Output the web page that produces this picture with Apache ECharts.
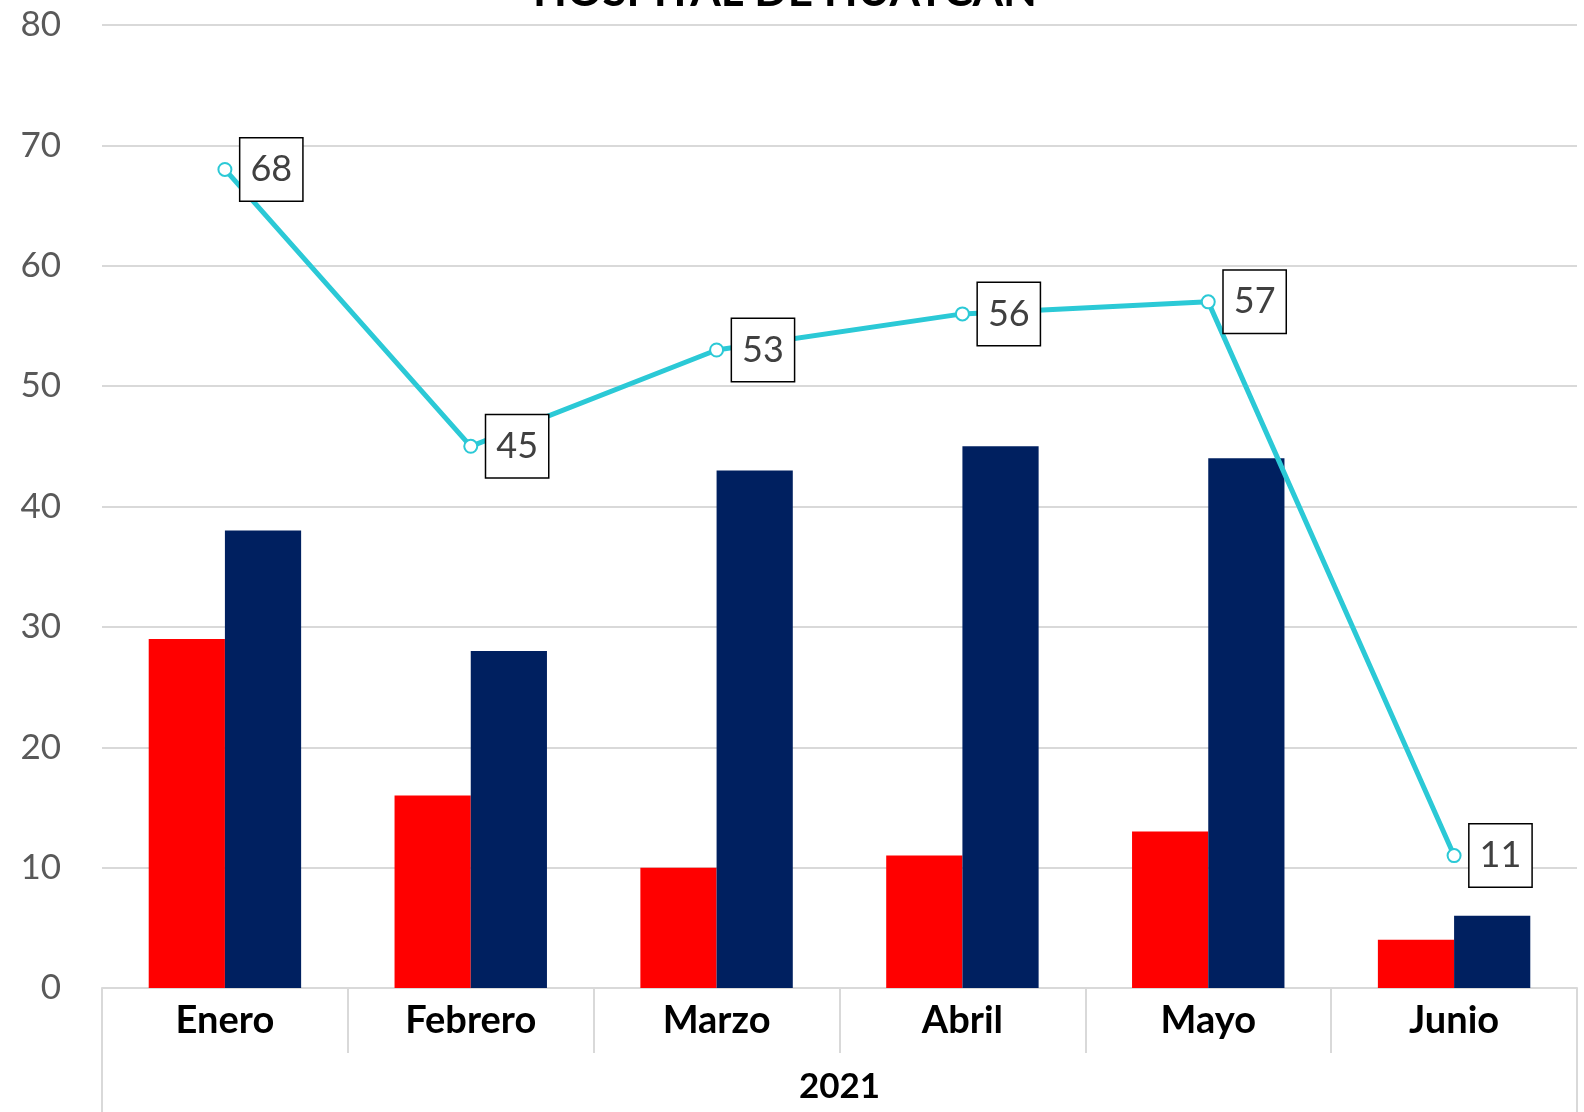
<!DOCTYPE html>
<html>
<head>
<meta charset="utf-8">
<script src="https://cdn.jsdelivr.net/npm/echarts@6/dist/echarts.min.js"></script>
<style>
  html, body { margin: 0; padding: 0; background: #fff; }
  #chart { width: 1584px; height: 1112px; }
</style>
</head>
<body>
<div id="chart"></div>
<script>
  // datos
  const meses = ['Enero', 'Febrero', 'Marzo', 'Abril', 'Mayo', 'Junio'];
  const anio = ['2021'];
  const serieRoja = [29, 16, 10, 11, 13, 4];
  const serieAzul = [38, 28, 43, 45, 44, 6];
  const serieTotal = [68, 45, 53, 56, 57, 11];

  const fuente = 'Lato, "Open Sans", sans-serif';
  const gris = '#d9d9d9';

  const myChart = echarts.init(document.getElementById('chart'));
  const option = {
    animation: false,
    textStyle: { fontFamily: fuente },
    title: {
      text: 'HOSPITAL DE HUAYCAN',
      left: 780,
      textAlign: 'center',
      top: -35,
      textStyle: { fontSize: 44, fontWeight: 'bold', color: '#000', fontFamily: fuente }
    },
    grid: { left: 102, right: 7, top: 25, bottom: 124 },
    xAxis: [
      {
        type: 'category',
        data: meses,
        axisLine: { lineStyle: { color: gris, width: 2 } },
        axisTick: { show: true, interval: 0, length: 65, lineStyle: { color: gris, width: 2 } },
        axisLabel: {
          interval: 0,
          margin: 14,
          fontSize: 38,
          fontWeight: 'bold',
          color: '#000',
          fontFamily: fuente
        }
      },
      {
        type: 'category',
        data: anio,
        position: 'bottom',
        axisLine: { show: false },
        axisTick: { show: true, length: 124, lineStyle: { color: gris, width: 2 } },
        axisLabel: {
          margin: 81,
          fontSize: 35,
          fontWeight: 'bold',
          color: '#000',
          fontFamily: fuente
        }
      }
    ],
    yAxis: {
      type: 'value',
      min: 0,
      max: 80,
      interval: 10,
      axisLine: { show: false },
      axisTick: { show: false },
      splitLine: { lineStyle: { color: gris, width: 2 } },
      axisLabel: { margin: 41, fontSize: 35, color: '#595959', fontFamily: fuente }
    },
    series: [
      {
        name: 'Serie 1',
        type: 'bar',
        data: serieRoja,
        barGap: 0,
        barCategoryGap: '38%',
        itemStyle: { color: '#ff0000' }
      },
      {
        name: 'Serie 2',
        type: 'bar',
        data: serieAzul,
        barGap: 0,
        barCategoryGap: '38%',
        itemStyle: { color: '#002060' }
      },
      {
        name: 'Total',
        type: 'line',
        data: serieTotal,
        z: 5,
        symbol: 'circle',
        symbolSize: 13,
        itemStyle: { color: '#fff', borderColor: '#2bc9d6', borderWidth: 2 },
        lineStyle: { color: '#2bc9d6', width: 5 },
        label: {
          show: true,
          position: 'right',
          distance: 8,
          fontSize: 36,
          color: '#404040',
          fontFamily: fuente,
          backgroundColor: '#fff',
          borderColor: '#000',
          borderWidth: 1.5,
          padding: [11, 10],
          lineHeight: 40
        }
      }
    ]
  };
  myChart.setOption(option);
</script>
</body>
</html>
